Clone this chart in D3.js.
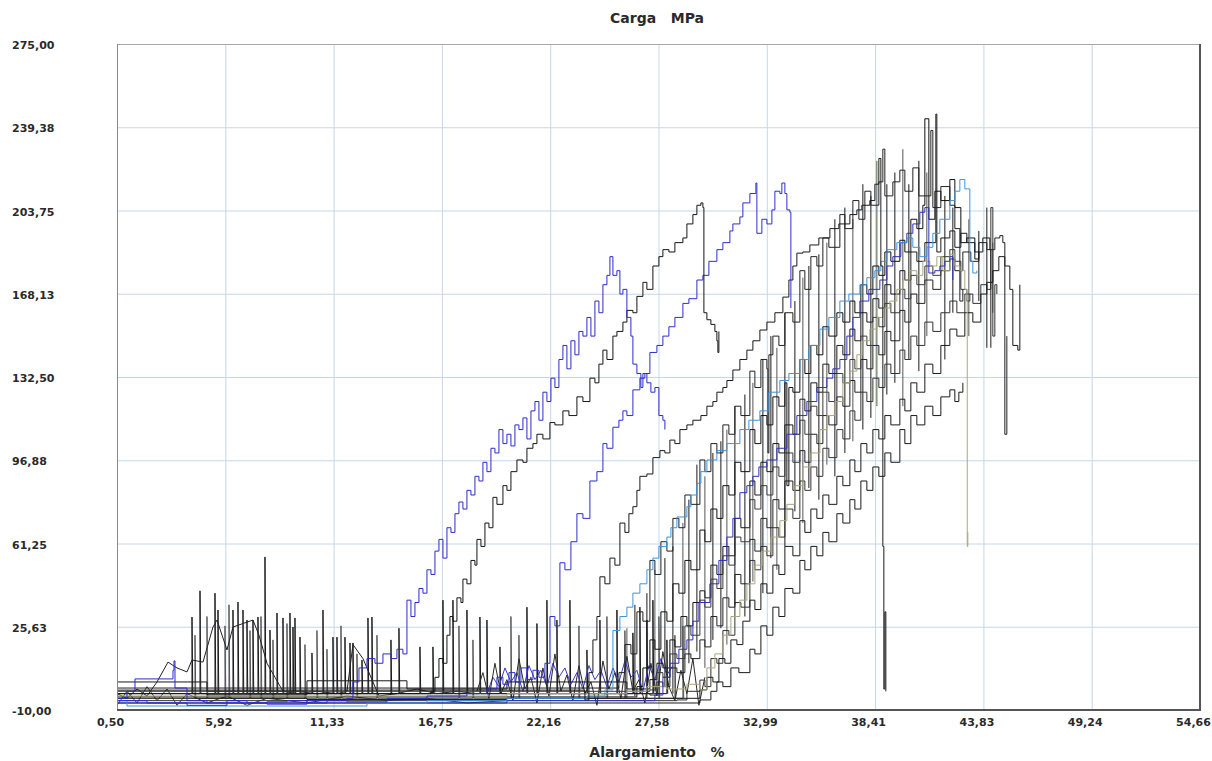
<!DOCTYPE html>
<html><head><meta charset="utf-8">
<script src="https://cdn.jsdelivr.net/npm/d3@7"></script>
<style>
body{margin:0;background:#fff}
svg{display:block}
text{font-family:"DejaVu Sans",Verdana,sans-serif;font-weight:bold;fill:#2a2a2a}
</style>
</head><body>
<svg id="c" width="1212" height="761"></svg>
<script>
// ---------- tick labels ----------
const yTickValues = [-10, 25.625, 61.25, 96.875, 132.5, 168.125, 203.75, 239.375, 275];
const yTickLabels = ["-10,00","25,63","61,25","96,88","132,50","168,13","203,75","239,38","275,00"];
const xTickValues = [0.50, 5.916, 11.332, 16.748, 22.164, 27.58, 32.996, 38.412, 43.828, 49.244, 54.66];
const xTickLabels = ["0,50","5,92","11,33","16,75","22,16","27,58","32,99","38,41","43,83","49,24","54,66"];
const titleText = "Carga   MPa";
const xTitleText = "Alargamiento   %";

// ---------- series (x = Alargamiento %, y = Carga MPa) ----------
const blueA = [[0.5,-5],[1.0,-2],[1.4,3.3],[2.65,3.3],[3.3,7],[3.35,11],[3.4,-0.6],[4,-6],[5,-7],[6,-6],[7,-7],[8,-6.5],[9,-6],[10,-7],[11,-6],[12,-5],[12.3,2],[12.6,8],[13.0,12],[13.4,10],[13.8,14],[14.2,12],[14.5,16],[14.8,14],[15.0,37],[15.2,30],[15.4,36],[15.6,42],[15.8,40],[16.0,50],[16.2,48],[16.4,58],[16.6,63],[16.8,55],[17.0,68],[17.2,66],[17.4,74],[17.6,79],[17.8,76],[18.0,84],[18.2,82],[18.4,90],[18.6,88],[18.8,96],[19.0,92],[19.2,102],[19.4,100],[19.6,110],[19.8,104],[20.0,108],[20.2,103],[20.4,112],[20.6,110],[20.8,115],[21.0,106],[21.2,118],[21.4,122],[21.6,114],[21.8,126],[22.0,122],[22.2,132],[22.4,128],[22.6,140],[22.8,146],[23.0,136],[23.2,148],[23.4,142],[23.6,152],[23.8,150],[24.0,158],[24.2,150],[24.4,165],[24.6,160],[24.8,172],[25.0,176],[25.15,184],[25.3,176],[25.5,178],[25.65,168],[25.8,170],[26.0,158],[26.2,150],[26.3,138],[26.5,134],[26.7,128],[26.8,134],[27.0,130],[27.2,126],[27.4,128],[27.6,116],[27.8,114],[27.9,110]];

const blackB = [[0.5,-3],[5,-3.5],[10,-3],[16.2,-2],[16.4,4],[16.6,12],[16.8,10],[17.0,22],[17.15,30],[17.3,28],[17.5,38],[17.7,36],[17.8,46],[18.0,44],[18.2,54],[18.4,52],[18.5,63],[18.7,60],[18.9,70],[19.1,68],[19.3,81],[19.5,78],[19.8,86],[20.0,84],[20.2,92],[20.5,97],[20.8,96],[21.0,102],[21.3,104],[21.5,108],[21.8,106],[22.15,113],[22.4,112],[22.8,118],[23.1,116],[23.5,124],[23.8,122],[24.15,132],[24.4,130],[24.6,138],[24.8,144],[25.0,140],[25.3,150],[25.5,152],[25.8,156],[26.0,161],[26.3,160],[26.5,167],[26.8,173],[27.0,170],[27.3,180],[27.6,184],[27.8,187],[28.1,186],[28.4,190],[28.8,192],[29.0,198],[29.3,202],[29.5,206],[29.7,207],[29.8,205],[29.85,160],[30.0,157],[30.2,155],[30.4,152],[30.5,148],[30.55,143],[30.6,152]];

const blueC = [[0.5,-6],[2,-7],[4,-8],[6,-7],[8,-7.5],[10,-6],[12,-6.5],[14,-5],[16,-4],[18,-3],[19,-1],[19.5,4],[19.8,1],[20.1,6],[20.4,2],[20.7,8],[21.0,3],[21.3,7],[21.6,4],[21.9,10],[22.15,30],[22.4,26],[22.65,53],[22.9,50],[23.2,62],[23.5,74],[23.8,72],[24.15,88],[24.5,92],[24.8,104],[25.0,102],[25.3,111],[25.6,114],[25.8,118],[26.0,116],[26.3,127],[26.65,132],[26.9,134],[27.15,143],[27.5,146],[27.8,150],[28.1,154],[28.4,158],[28.8,164],[29.1,166],[29.5,174],[29.8,176],[30.1,182],[30.5,187],[30.8,190],[31.15,195],[31.3,198],[31.65,201],[31.8,207],[32.15,211],[32.45,215.5],[32.5,194],[32.75,200],[33.0,198],[33.25,204],[33.4,212],[33.65,211],[33.75,215.5],[33.9,211],[34.0,204],[34.15,203],[34.2,162]];

const blackD = [[0.5,-1.5],[8,-1.5],[16,-1.5],[23.6,-1.5],[23.9,-5.7],[24.1,6],[24.3,20],[24.5,30],[24.65,47],[24.9,44],[25.15,55],[25.4,52],[25.65,70],[25.9,66],[26.1,74],[26.3,77],[26.5,84],[26.65,90],[27.0,91],[27.3,98],[27.65,101],[27.9,100],[28.15,105.5],[28.4,104],[28.65,110],[29.0,112],[29.3,114],[29.7,116],[30.0,120],[30.3,122],[30.5,126],[30.8,128],[31.0,131],[31.3,135.5],[31.65,140],[32.0,144],[32.3,148],[32.65,152.6],[33.0,156],[33.4,160],[33.8,166.7],[34.1,174],[34.3,180],[34.5,185.5],[34.8,186],[35.15,189],[35.6,192],[36.15,196],[36.6,198],[37.15,202],[37.5,204],[37.75,206],[38.15,208],[38.4,215],[38.6,226],[38.7,180],[38.8,60],[38.85,-1],[38.9,32],[38.95,-2]];

const blackK1 = [[0.5,-0.6],[10,-0.6],[20,-0.6],[25.3,-0.6],[25.6,6],[25.9,18],[26.2,14],[26.5,32],[26.8,28],[27.15,54],[27.4,48],[27.7,62],[28.0,58],[28.3,72],[28.6,68],[28.9,82],[29.2,78],[29.65,97],[29.9,92],[30.2,104],[30.5,100],[30.8,112],[31.1,108],[31.4,120],[31.7,116],[32.15,135],[32.4,128],[32.7,140],[33.0,136],[33.05,100],[33.1,142],[33.3,150],[33.6,146],[33.9,160],[34.3,156],[34.65,178],[34.9,170],[35.2,184],[35.5,180],[35.8,192],[36.1,188],[36.65,202],[36.9,196],[37.3,208],[37.6,200],[37.9,212],[38.2,206],[38.6,216],[38.8,230],[38.9,210],[39.3,216],[39.65,221],[39.9,212],[40.3,222],[40.6,210],[41.2,238],[41.3,205],[41.7,214],[42.15,206],[42.4,196],[42.65,165],[42.8,170]];

const blackK2 = [[0.5,-4.4],[15,-4.4],[26.2,-4.4],[26.5,0],[26.8,8],[27.15,20],[27.4,16],[27.7,32],[28.0,28],[28.3,44],[28.6,40],[28.9,54],[29.2,50],[29.65,67],[29.9,62],[30.2,76],[30.5,72],[30.8,86],[31.1,82],[31.4,96],[31.7,92],[32.15,110],[32.4,104],[32.7,116],[33.0,112],[33.3,124],[33.6,120],[33.9,130],[34.0,86],[34.1,128],[34.3,126],[34.65,140],[34.9,134],[35.2,146],[35.5,142],[35.8,154],[36.1,150],[36.5,160],[36.8,156],[37.15,165],[37.4,160],[37.7,172],[38.0,168],[38.3,180],[38.6,176],[38.9,186],[39.2,182],[39.65,191],[39.9,186],[40.2,200],[40.5,196],[40.8,206],[40.9,243],[41.1,200],[41.4,212],[41.7,208],[42.15,217],[42.4,205],[42.7,190],[43.0,192],[43.4,183],[43.6,186]];

const blackK3 = [[0.5,2],[5,-2],[10,2.5],[15,-1],[20,2],[26,-1],[27.15,3],[27.5,10],[27.8,8],[28.15,20],[28.4,17],[28.7,30],[29.0,26],[29.3,36],[29.65,41],[29.9,38],[30.2,52],[30.5,48],[30.8,60],[31.1,56],[31.4,72],[31.7,68],[32.15,88],[32.4,82],[32.7,96],[33.0,92],[33.3,104],[33.6,100],[33.9,112],[34.3,108],[34.65,123],[34.9,118],[35.2,130],[35.5,126],[35.8,138],[36.1,134],[36.5,146],[36.8,142],[37.15,153],[37.4,148],[37.7,160],[38.0,156],[38.3,166],[38.6,162],[38.9,172],[39.2,168],[39.65,178],[39.9,174],[40.2,186],[40.5,182],[40.9,190],[41.45,245],[41.5,186],[41.7,192],[42.15,195],[42.4,188],[42.7,194],[43.0,190],[43.4,186],[43.8,192],[44.15,187],[44.2,145]];

const blackK4 = [[0.5,-3],[8,-3],[16,-3],[24,-3],[27.15,-3.6],[27.5,2],[27.8,0],[28.15,8],[28.5,6],[28.9,14],[29.2,12],[29.65,20],[29.9,17],[30.2,30],[30.5,26],[30.8,38],[31.1,34],[31.4,48],[31.7,44],[32.15,63],[32.4,58],[32.7,72],[33.0,68],[33.3,80],[33.6,76],[33.9,88],[34.3,84],[34.65,101],[34.9,96],[35.2,108],[35.5,104],[35.8,116],[36.1,112],[36.5,124],[36.8,120],[37.15,131],[37.4,126],[37.7,140],[38.0,136],[38.3,146],[38.6,142],[38.9,152],[39.2,148],[39.65,161],[39.9,156],[40.2,168],[40.5,164],[40.9,174],[41.3,170],[41.7,178],[42.15,183],[42.4,178],[42.8,186],[43.2,182],[43.6,190],[44.0,187],[44.4,192],[44.65,193],[44.8,190],[44.9,108],[45.0,150]];

const blackK5 = [[0.5,-5],[10,-5.5],[20,-5],[29.3,-5],[29.65,-1.4],[30.0,4],[30.3,2],[30.6,12],[30.9,10],[31.2,20],[31.5,18],[31.8,28],[32.15,37],[32.4,33],[32.7,44],[33.0,40],[33.3,52],[33.6,48],[33.9,60],[34.3,56],[34.65,71],[34.9,66],[35.2,76],[35.5,72],[35.8,82],[36.1,78],[36.5,90],[36.8,86],[37.15,97],[37.4,92],[37.7,104],[38.0,100],[38.3,110],[38.6,106],[38.9,116],[39.2,112],[39.65,123],[39.9,118],[40.2,130],[40.5,126],[40.9,138],[41.3,134],[41.7,146],[42.15,153],[42.5,150],[42.9,160],[43.3,156],[43.7,168],[44.0,173],[44.3,178],[44.6,184],[44.9,180],[45.15,170],[45.3,146],[45.55,144],[45.65,172]];

const blackK6 = [[0.5,-6],[10,-6],[20,-6],[28.5,-5.7],[29.0,-2],[29.65,2.8],[29.9,0],[30.2,12],[30.5,10],[30.8,24],[31.1,22],[31.4,36],[31.7,34],[32.15,54],[32.4,50],[32.7,60],[33.0,56],[33.3,68],[33.6,64],[33.9,76],[34.3,72],[34.65,88],[34.9,84],[35.2,94],[35.5,90],[35.8,102],[36.1,98],[36.5,110],[36.8,106],[37.15,118],[37.4,114],[37.7,126],[38.0,122],[38.3,132],[38.6,128],[38.9,138],[39.2,134],[39.65,144],[39.9,140],[40.2,150],[40.5,146],[40.9,156],[41.3,152],[41.7,160],[42.15,165],[42.5,160],[42.9,168],[43.3,164],[43.7,172],[44.0,170],[44.2,205],[44.3,150],[44.4,172],[44.5,168]];

const blackK7 = [[0.5,-7],[10,-7],[20,-7],[29.5,-7],[29.65,-5.7],[30.2,-2],[30.5,2],[30.8,0],[31.2,8],[31.6,6],[32.15,16],[32.4,14],[32.7,26],[33.0,22],[33.3,34],[33.6,30],[33.9,42],[34.3,40],[34.65,54],[34.9,50],[35.2,60],[35.5,56],[35.8,66],[36.1,62],[36.5,74],[36.8,70],[37.15,80],[37.4,76],[37.7,88],[38.0,84],[38.3,94],[38.6,90],[38.9,100],[39.2,96],[39.65,110],[39.9,104],[40.2,116],[40.5,112],[40.9,120],[41.3,116],[41.7,124],[42.15,127],[42.4,122],[42.6,126],[42.8,130]];

const blackK8 = [[0.5,-2],[10,-2],[20,-2],[26.8,-2],[27.15,-1.4],[27.5,6],[27.8,4],[28.15,14],[28.5,12],[28.9,26],[29.2,22],[29.65,37],[29.9,34],[30.2,46],[30.5,42],[30.8,56],[31.1,52],[31.4,64],[31.7,62],[32.15,80],[32.4,76],[32.7,86],[33.0,82],[33.3,94],[33.6,90],[33.9,100],[34.3,96],[34.65,114],[34.9,108],[35.2,120],[35.5,116],[35.8,126],[36.1,122],[36.5,134],[36.8,130],[37.15,140],[37.4,136],[37.7,150],[38.0,146],[38.3,158],[38.6,154],[38.9,164],[39.2,160],[39.65,170],[39.9,166],[40.2,176],[40.5,172],[40.9,180],[41.3,176],[41.7,184],[42.15,187],[42.4,182],[42.7,170],[43.0,165],[43.15,168]];

const lightBlue = [[0.5,-6],[1,-8.3],[4,-8.3],[8,-8.3],[12,-8.3],[13,-7],[16,-6],[20,-5],[24,-4],[24.9,-1.4],[25.3,24],[25.65,30],[26.0,34],[26.3,40],[26.65,44],[27.0,50],[27.3,55],[27.6,60],[28.0,64],[28.2,68],[28.5,72.6],[29.0,77],[29.2,82],[29.5,87],[29.7,92],[30.0,97],[30.5,101],[31.0,104],[31.65,110],[32.1,114],[32.65,118],[33.1,126],[33.65,131],[34.1,134],[34.65,140],[35.1,146],[35.65,153],[36.1,158],[36.65,165],[37.1,168],[37.65,172],[38.0,175],[38.4,178],[38.7,182],[39.0,187],[39.5,190],[40.0,192],[40.3,188],[40.65,184],[41.0,188],[41.3,194],[41.65,200],[42.15,208],[42.4,212],[42.65,217],[42.8,217],[42.9,213],[43.05,213],[43.15,182],[43.3,177],[43.5,178]];

const darkBlue2 = [[0.5,-7],[10,-7],[20,-6],[27.4,-3.6],[27.8,4],[28.15,10],[28.6,16],[29.0,20],[29.3,28],[29.6,36],[30.15,44],[30.6,54],[31.0,64],[31.3,72],[31.65,83],[32.0,86],[32.3,90],[32.6,94],[33.0,97],[33.5,102],[34.0,108],[34.5,116],[35.0,122],[35.5,128],[36.0,132],[36.3,136],[36.65,140],[37.0,150],[37.3,158],[37.65,165],[38.1,170],[38.65,174],[39.0,180],[39.3,184],[39.7,190],[40.0,194],[40.3,198],[40.65,203],[40.9,205],[41.05,205],[41.1,177],[41.4,178],[41.65,180],[41.9,182],[42.15,184],[42.3,174]];

const olive = [[0.5,-4],[10,-4],[20,-3],[26,-2],[27,0],[28,-1],[29,1],[29.65,-1.4],[30.0,8],[30.4,14],[30.8,22],[31.2,30],[31.65,37],[32.0,44],[32.4,52],[32.8,58],[33.2,64],[33.65,71],[34.0,78],[34.4,86],[34.8,94],[35.2,100],[35.65,110],[36.0,116],[36.4,122],[36.8,130],[37.15,135],[37.5,142],[37.8,148],[38.15,153],[38.5,158],[38.8,162],[39.15,165],[39.5,170],[39.8,174],[40.15,178],[40.5,176],[40.8,182],[41.15,180],[41.5,184],[41.8,178],[42.15,185],[42.4,180],[42.65,178],[42.9,170],[43.0,165],[43.02,60],[43.05,66]];

const noiseA = [[0.5,-3],[1.0,-5],[1.5,-1],[2.0,-4],[2.5,2],[3.05,10.5],[3.5,8],[4.0,6.3],[4.25,11.4],[4.8,10.5],[5.3,25.5],[5.5,28.5],[6.0,15.7],[6.3,25.5],[7.3,28.5],[7.6,22],[8.0,10],[8.4,4],[8.8,-2],[9.5,-3],[10.5,-2],[11.5,-3],[12.0,-2],[12.3,18],[12.8,12],[13.3,2],[13.6,-4],[14.5,-3],[15.5,-1],[16.5,-3],[17.5,-2],[18.5,-3]];

const noiseB = [[18.5,-2],[18.8,6],[19.1,-5],[19.4,10],[19.7,-3],[20.0,3],[20.3,-6],[20.6,12],[20.9,-1],[21.2,4],[21.5,-7],[21.8,8],[22.1,-4],[22.4,14],[22.7,-2],[23.0,5],[23.3,-6],[23.6,9],[23.9,-3],[24.2,2],[24.5,-8],[24.8,11],[25.1,-1],[25.4,6],[25.7,-5],[26.0,13],[26.3,-2],[26.6,3],[26.9,-7],[27.2,10],[27.5,-4],[27.8,15],[28.1,0],[28.4,-6],[28.7,7],[29.0,-3],[29.3,12],[29.6,-8],[29.9,4]];

const noiseC = [[19.0,-3],[19.3,4],[19.6,0],[19.9,8],[20.2,2],[20.5,6],[20.8,-2],[21.1,9],[21.4,3],[21.7,7],[22.0,0],[22.3,10],[22.6,4],[22.9,8],[23.2,1],[23.5,6],[23.8,-1],[24.1,9],[24.4,3],[24.7,7],[25.0,0],[25.3,8],[25.6,2],[25.9,11],[26.2,4],[26.5,7],[26.8,-2],[27.1,9],[27.4,3],[27.7,12],[28.0,5],[28.3,9]];

const noiseE = [[0.5,-8],[1.0,-2],[1.5,-7],[2.0,0],[2.5,-6],[3.0,-1],[3.5,-8],[4.0,-3],[5,-7],[6,-4],[7,-8],[8,-5],[10,-7],[12,-4],[14,-6],[16,-5],[18,-7],[20,-6]];

// baseline spikes (vertical strokes from a base load up to a peak)
const spikeX = [4.25,4.65,5.4,5.55,6.3,6.55,6.8,7.0,7.3,7.55,7.9,8.15,8.5,8.8,9.15,9.3,9.4,9.65,10.25,10.8,11.3,11.5,11.9,12.15,12.3,12.75,13.05,13.25,14.2,14.6,15.65,16.3,16.8,17.3,18.0,18.65,19.0,19.65,21.0,21.5,22.0,22.5,23.15,24.0,24.65,25.5,26.3,26.65,27.0,27.3,28.0];
const spikeTop = [29.8,41,40,32.8,32.8,36.2,32.8,28.5,28.5,29.8,55.5,24.2,31.5,29.4,31.5,25.5,29.4,21.2,14.4,32.8,21.2,21.2,21.2,18.7,18.7,11.4,29.4,29.8,20,25,17,17,37,37,32.8,29.8,28.5,17,34,27,37,28.5,37,15.7,28.5,32.8,23,34,28.5,37,20];
const spikeBase = -3;
const spike2X = [4.4,5.0,5.9,6.1,7.15,7.7,8.3,9.0,9.9,10.5,11.0,11.7,12.5,13.5,17.6,18.3,20.2,20.6,23.6,25.0,25.9,27.6,28.4,28.8];
const spike2Top = [22,30,26,35,24,30,20,27,18,24,16,26,14,22,26,20,30,22,26,30,24,30,22,26];
const spike2Base = -5;

// vertical jumps inside the rising bundle
const jumpX = [26.0,26.4,27.0,27.4,27.9,28.3,28.8,29.1,29.5,29.9,30.3,30.7,31.0,31.4,31.9,32.3,32.8,33.2,33.5,33.9,34.4,34.8,35.1,35.6,36.0,36.4,36.9,37.3,37.8,38.2,38.5,39.0,39.4,39.8,40.1,40.6,41.0,41.9,42.3,43.1,43.6,44.0,44.3];
const jumpLow = [-5,-4,-5,-2,0,-3,5,10,15,8,20,25,18,35,30,45,40,55,50,60,75,70,85,80,95,90,100,105,110,115,120,125,130,120,140,135,150,140,160,150,165,145,160];
const jumpHigh = [25,35,40,50,55,60,70,80,95,90,100,105,110,120,125,130,140,150,145,160,165,175,180,185,190,200,205,200,215,210,225,215,220,230,215,225,220,210,205,200,195,205,190];

// ---------- styling (kept apart from data) ----------
const seriesStyles = [
  {data: noiseE, color:"#3a3a3a", curve:"linear"},
  {data: noiseA, color:"#222222", curve:"linear"},
  {data: noiseC, color:"#3a3ad2", curve:"linear"},
  {data: noiseB, color:"#2a2a2a", curve:"linear"},
  {data: blackK7, color:"#1a1a1a", curve:"step"},
  {data: blackK6, color:"#333333", curve:"step"},
  {data: blackK5, color:"#1a1a1a", curve:"step"},
  {data: blackK4, color:"#222222", curve:"step"},
  {data: blackK3, color:"#1a1a1a", curve:"step"},
  {data: blackK8, color:"#3a3a3a", curve:"step"},
  {data: blackK2, color:"#111111", curve:"step"},
  {data: blackK1, color:"#222222", curve:"step"},
  {data: olive, color:"#a9a77a", curve:"step"},
  {data: darkBlue2, color:"#3030c0", curve:"step"},
  {data: lightBlue, color:"#3d94dc", curve:"step"},
  {data: blackD, color:"#1a1a1a", curve:"step"},
  {data: blueC, color:"#2d2dd0", curve:"step"},
  {data: blackB, color:"#151515", curve:"step"},
  {data: blueA, color:"#2b2bcf", curve:"step"}
];

// ---------- drawing ----------
const svg = d3.select("#c");
const L = 117, R = 1200, T = 44, B = 710;
const x = d3.scaleLinear().domain([0.5, 54.66]).range([L, R]);
const y = d3.scaleLinear().domain([-10, 275]).range([B, T]);

// grid
const gx = svg.append("g").attr("transform", `translate(0,${B})`)
  .call(d3.axisBottom(x).tickValues(xTickValues).tickSize(-(B - T)).tickFormat(""));
gx.select(".domain").remove();
gx.selectAll("line").attr("stroke", "#c6d6ea").attr("stroke-width", 1);
const gy = svg.append("g").attr("transform", `translate(${L},0)`)
  .call(d3.axisLeft(y).tickValues(yTickValues).tickSize(-(R - L)).tickFormat(""));
gy.select(".domain").remove();
gy.selectAll("line").attr("stroke", "#c6d6ea").attr("stroke-width", 1);

// clip
svg.append("defs").append("clipPath").attr("id", "clip")
  .append("rect").attr("x", L).attr("y", T).attr("width", R - L).attr("height", B - T);
const plot = svg.append("g").attr("clip-path", "url(#clip)");

const lineLin = d3.line().x(d => x(d[0])).y(d => y(d[1]));
const lineStep = d3.line().x(d => x(d[0])).y(d => y(d[1])).curve(d3.curveStepAfter);

function spikePath(xs, tops, base) {
  const pts = [];
  xs.forEach((v, i) => { pts.push([v, base], [v, tops[i]], [v + 0.04, base]); });
  return pts;
}
plot.append("path").attr("d", lineLin(spikePath(spike2X, spike2Top, spike2Base)))
  .attr("fill", "none").attr("stroke", "#555").attr("stroke-width", 1);
plot.append("path").attr("d", lineLin(spikePath(spikeX, spikeTop, spikeBase)))
  .attr("fill", "none").attr("stroke", "#1a1a1a").attr("stroke-width", 1);

// bundle vertical jumps
plot.append("g").selectAll("path").data(jumpX).join("path")
  .attr("d", (v, i) => lineLin([[v, jumpLow[i]], [v, jumpHigh[i]]]))
  .attr("fill", "none").attr("stroke", (v, i) => i % 3 === 0 ? "#555" : "#1a1a1a").attr("stroke-width", 1);

seriesStyles.forEach(s => {
  plot.append("path")
    .attr("d", (s.curve === "step" ? lineStep : lineLin)(s.data))
    .attr("fill", "none").attr("stroke", s.color).attr("stroke-width", 1);
});

// frame
svg.append("line").attr("x1", L).attr("x2", R).attr("y1", T + 0.5).attr("y2", T + 0.5).attr("stroke", "#a8a8a8");
svg.append("line").attr("x1", L + 0.5).attr("x2", L + 0.5).attr("y1", T).attr("y2", B).attr("stroke", "#8a8a8a");
svg.append("line").attr("x1", R).attr("x2", R).attr("y1", T).attr("y2", B + 1).attr("stroke", "#555").attr("stroke-width", 2);
svg.append("line").attr("x1", L).attr("x2", R + 1).attr("y1", B).attr("y2", B).attr("stroke", "#555").attr("stroke-width", 2);

// axes labels
const ay = svg.append("g").attr("transform", `translate(${L},0)`)
  .call(d3.axisLeft(y).tickValues(yTickValues).tickSize(0).tickFormat((d, i) => yTickLabels[i]));
ay.select(".domain").remove();
ay.selectAll("text").attr("x", 12 - L).attr("text-anchor", "start").attr("dy", "0.42em")
  .style("font-size", "11px").style("font-family", "'DejaVu Sans',sans-serif").style("font-weight", "bold").attr("fill", "#2a2a2a");

const ax = svg.append("g").attr("transform", `translate(0,${B})`)
  .call(d3.axisBottom(x).tickValues(xTickValues).tickSize(0).tickPadding(8).tickFormat((d, i) => xTickLabels[i]));
ax.select(".domain").remove();
ax.selectAll("text").attr("x", -7).style("font-size", "11px").style("font-family", "'DejaVu Sans',sans-serif").style("font-weight", "bold").attr("fill", "#2a2a2a");

svg.append("text").attr("x", 657).attr("y", 23).attr("text-anchor", "middle")
  .style("font-size", "14px").style("white-space", "pre").attr("xml:space", "preserve").text(titleText);
svg.append("text").attr("x", 657).attr("y", 757).attr("text-anchor", "middle")
  .style("font-size", "14px").style("white-space", "pre").attr("xml:space", "preserve").text(xTitleText);
</script>
</body></html>
